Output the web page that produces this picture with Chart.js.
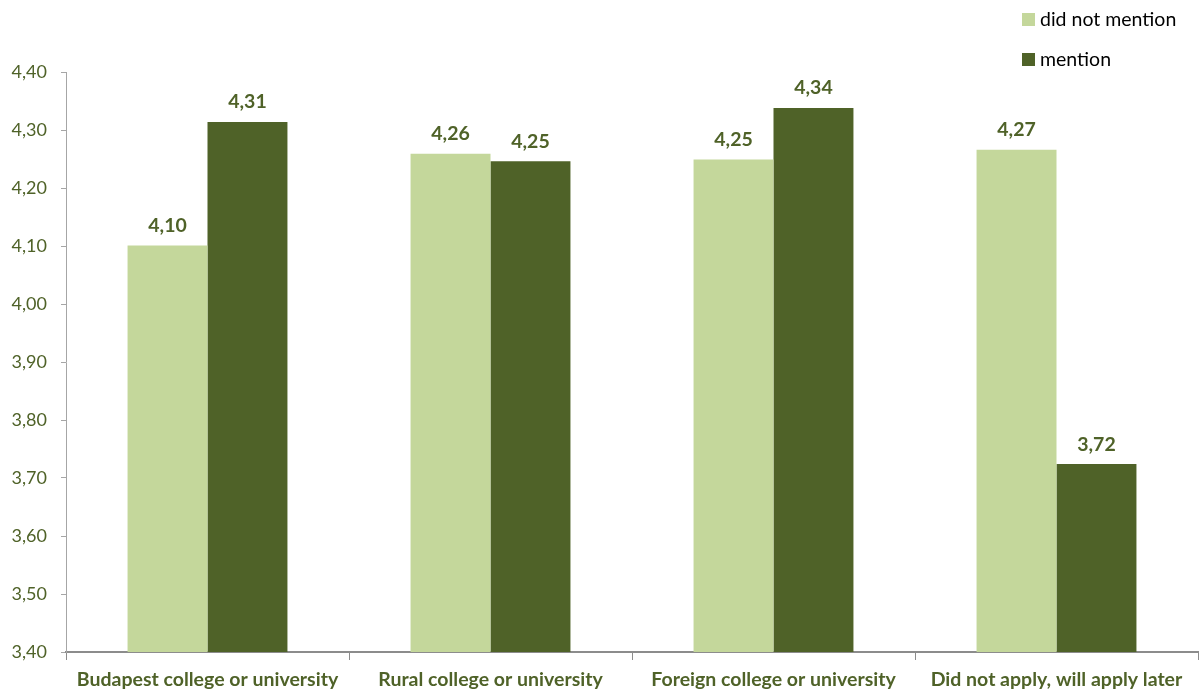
<!DOCTYPE html>
<html>
<head>
<meta charset="utf-8">
<title>Ratings by application plans</title>
<script src="https://cdn.jsdelivr.net/npm/chart.js@4/dist/chart.umd.min.js"></script>
<style>
  html, body { margin: 0; padding: 0; background: #fff; }
  #wrap { width: 1200px; height: 693px; position: relative; }
</style>
</head>
<body>
<div id="wrap"><canvas id="chart"></canvas></div>
<script>
// Data
const categories = [
    'Budapest college or university',
    'Rural college or university',
    'Foreign college or university',
    'Did not apply, will apply later'
];
const didNotMention = [4.101, 4.259, 4.249, 4.266];
const mention = [4.314, 4.246, 4.338, 3.724];
const seriesNames = ['did not mention', 'mention'];
const yTicks = [3.4, 3.5, 3.6, 3.7, 3.8, 3.9, 4.0, 4.1, 4.2, 4.3, 4.4];

const LIGHT = '#c4d79b';
const DARK = '#4f6228';
const FONT = 'Lato, "Open Sans", sans-serif';

const fmt = v => v.toFixed(2).replace('.', ',');

// Value labels above each bar
const valueLabels = {
    id: 'valueLabels',
    afterDatasetsDraw(chart) {
        const { ctx } = chart;
        ctx.save();
        ctx.font = 'bold 19.5px ' + FONT;
        ctx.fillStyle = DARK;
        ctx.textAlign = 'center';
        ctx.textBaseline = 'bottom';
        chart.data.datasets.forEach((ds, i) => {
            chart.getDatasetMeta(i).data.forEach((bar, j) => {
                ctx.fillText(fmt(ds.data[j]), bar.x, bar.y - 10);
            });
        });
        ctx.restore();
    }
};

// Stacked legend in the top-right corner
const cornerLegend = {
    id: 'cornerLegend',
    afterDraw(chart) {
        const { ctx } = chart;
        ctx.save();
        ctx.font = '19.5px ' + FONT;
        ctx.textBaseline = 'middle';
        chart.data.datasets.forEach((ds, i) => {
            const y = 20 + i * 40;
            ctx.fillStyle = ds.backgroundColor;
            ctx.fillRect(1022, y - 7, 13, 13);
            ctx.fillStyle = '#000';
            ctx.fillText(ds.label, 1040, y);
        });
        ctx.restore();
    }
};

new Chart(document.getElementById('chart'), {
    type: 'bar',
    data: {
        labels: categories,
        datasets: [
            { label: seriesNames[0], data: didNotMention, backgroundColor: LIGHT },
            { label: seriesNames[1], data: mention, backgroundColor: DARK }
        ]
    },
    options: {
        responsive: true,
        maintainAspectRatio: false,
        animation: false,
        layout: { padding: { top: 72, right: 2, left: 0, bottom: 0 } },
        datasets: { bar: { categoryPercentage: 0.565, barPercentage: 1.0 } },
        plugins: {
            legend: { display: false },
            tooltip: { enabled: false }
        },
        scales: {
            x: {
                grid: { display: true, drawOnChartArea: false, drawTicks: true, tickLength: 8, color: '#8c8c8c', lineWidth: 1 },
                border: { display: true, color: '#8c8c8c', width: 2 },
                ticks: { color: DARK, font: { family: FONT, size: 19.5, weight: 'bold' }, padding: 8, maxRotation: 0 },
                afterFit: s => { s.height = 41; }
            },
            y: {
                min: yTicks[0],
                max: yTicks[yTicks.length - 1],
                afterBuildTicks: s => { s.ticks = yTicks.map(v => ({ value: v })); },
                grid: { display: true, drawOnChartArea: false, drawTicks: true, tickLength: 5, color: '#a6a6a6' },
                border: { display: true, color: '#a6a6a6', width: 1, dash: [2, 2] },
                ticks: { color: DARK, font: { family: FONT, size: 18 }, padding: 14, callback: v => fmt(v) },
                afterFit: s => { s.width = 66; }
            }
        }
    },
    plugins: [valueLabels, cornerLegend]
});
</script>
</body>
</html>
